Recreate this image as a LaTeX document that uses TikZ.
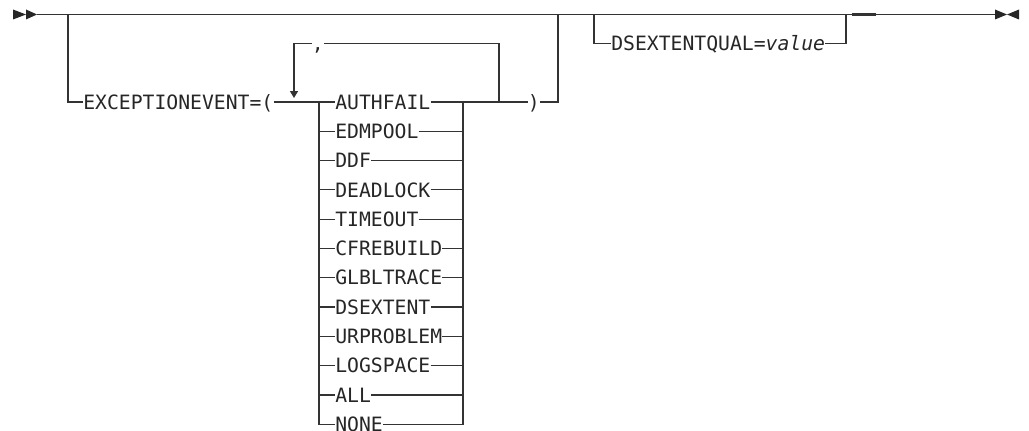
\documentclass[tikz,border=0pt]{standalone}
\usepackage{fontspec}
\setmonofont{DejaVu Sans Mono}
\usetikzlibrary{arrows.meta}

\begin{document}
\begin{tikzpicture}[
          x=0.75pt, y=-0.75pt,
          every node/.style={font=\ttfamily\fontsize{14.8}{17}\selectfont, text=black!85},
          kw/.style={anchor=west, inner sep=0pt, text height=10.8pt, text depth=0pt},
          rail/.style={draw=black!80, line width=0.9pt},
          rep/.style={rail, -{Triangle[length=5.2pt, width=6pt]}},
          tip/.style={fill=black!85}
      ]
        \useasboundingbox (0,0) rectangle (1029,431);

        % start and end marks
        \fill[tip] (13,9.5) -- (26,14.5) -- (13,19.5) -- cycle;
        \fill[tip] (26,9.5) -- (37,14.5) -- (26,19.5) -- cycle;
        \fill[tip] (995,9.5) -- (1007,14.5) -- (995,19.5) -- cycle;
        \fill[tip] (1019,9.5) -- (1007,14.5) -- (1019,19.5) -- cycle;

        \coordinate (st)    at (37,14.5);
        \coordinate (en)    at (995,14.5);
        \coordinate (exL)   at (68,14.5);
        \coordinate (exR)   at (558,14.5);
        \coordinate (dqL)   at (594,14.5);
        \coordinate (dqR)   at (846,14.5);
        \coordinate (lr)    at (319,102);
        \coordinate (rr)    at (463,102);
        \coordinate (loopR) at (499,102);
        \coordinate (loopL) at (294,98);

        \node[kw] (exc)   at (83,102)    {EXCEPTIONEVENT=(};
        \node[kw] (comma) at (311.5,43.5) {,};
        \node[kw] (close) at (527.5,102) {)};
        \node[kw] (dsq)   at (611,43.5)  {DSEXTENTQUAL=\textit{value}};

        \node[kw] (evauth)  at (335,102.0) {AUTHFAIL};
        \node[kw] (evedm)   at (335,131.3) {EDMPOOL};
        \node[kw] (evddf)   at (335,160.6) {DDF};
        \node[kw] (evdead)  at (335,189.9) {DEADLOCK};
        \node[kw] (evtime)  at (335,219.2) {TIMEOUT};
        \node[kw] (evcfr)   at (335,248.5) {CFREBUILD};
        \node[kw] (evglbl)  at (335,277.8) {GLBLTRACE};
        \node[kw] (evdsx)   at (335,307.1) {DSEXTENT};
        \node[kw] (evurp)   at (335,336.4) {URPROBLEM};
        \node[kw] (evlog)   at (335,365.7) {LOGSPACE};
        \node[kw] (evall)   at (335,395.0) {ALL};
        \node[kw] (evnone)  at (335,424.3) {NONE};

        % main line
        \draw[rail] (st) -- (en);
        \draw[rail, line width=2pt] (852,14.5) -- (876,14.5);

        % EXCEPTIONEVENT branch
        \draw[rail] (exL) |- (exc.west);
        \draw[rail] (exc.east) -- (evauth.west);
        \draw[rail] (evauth.east) -- (close.west);
        \draw[rail] (close.east) -| (exR);
        \draw[rail] (loopR) |- (comma.east);
        \draw[rep]  (comma.west) -| (loopL);
        \draw[rail] (lr) |- (evnone.west);
        \draw[rail] (evnone.east) -| (rr);
        \foreach \k in {evedm,evddf,evdead,evtime,evcfr,evglbl,evdsx,evurp,evlog,evall} {
          \draw[rail] (lr |- \k.west) -- (\k.west);
          \draw[rail] (\k.east) -- (rr |- \k.east);
        }

        % DSEXTENTQUAL branch
        \draw[rail] (dqL) |- (dsq.west);
        \draw[rail] (dsq.east) -| (dqR);
      \end{tikzpicture}
\end{document}
